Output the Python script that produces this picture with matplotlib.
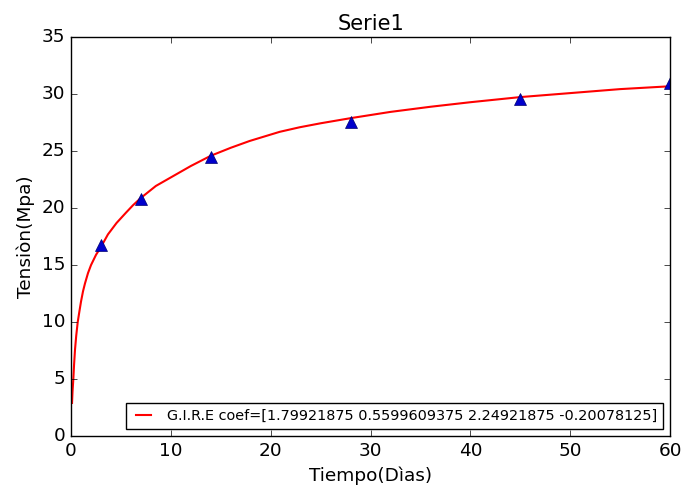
import matplotlib
matplotlib.use('Agg')
import matplotlib.pyplot as plt

# measured points (days, MPa)
dias = [3, 7, 14, 28, 45, 60]
tension = [16.75, 20.8, 24.5, 27.6, 29.6, 31.0]

# fitted curve
curva_x = [0.1, 0.15, 0.23, 0.3, 0.4, 0.52, 0.67, 0.85, 1.0, 1.2, 1.4, 1.7, 2.0, 2.5, 3, 3.7,
           4.56, 5.5, 6.2, 7, 8.5, 10.6, 12, 14, 16, 17.9, 20.9, 22.9, 25, 28, 32, 36, 40, 45,
           50, 55, 60]
curva_y = [2.9, 3.9, 5.0, 6.2, 7.6, 8.8, 10.0, 11.0, 11.8, 12.7, 13.4, 14.3, 15.0, 15.9, 16.6, 17.7,
           18.7, 19.6, 20.25, 20.9, 21.95, 23.0, 23.7, 24.6, 25.3, 25.9, 26.7, 27.1, 27.45, 27.9, 28.45,
           28.9, 29.3, 29.75, 30.1, 30.45, 30.7]

coef = '[1.79921875 0.5599609375 2.24921875 -0.20078125]'

plt.style.use('classic')
fig = plt.figure(figsize=(6.83, 4.88), dpi=100, facecolor='white')
ax = fig.add_axes([0.104, 0.1066, 0.877, 0.817])

ax.plot(curva_x, curva_y, 'r-', linewidth=1.5, label='G.I.R.E coef=' + coef)
ax.plot(dias, tension, '^', color='#0000cc', markersize=8, markeredgecolor='#000070')

ax.set_xlim(0, 60)
ax.set_ylim(0, 35)
ax.set_title('Serie1', fontsize=15)
ax.set_xlabel('Tiempo(Dìas)', fontsize=13.3)
ax.set_ylabel('Tensiòn(Mpa)', fontsize=13.3)
ax.tick_params(labelsize=13.3)
ax.legend(loc='lower right', fontsize=10.4, handlelength=1.6)

plt.savefig('out.png', dpi=100, facecolor='white')
